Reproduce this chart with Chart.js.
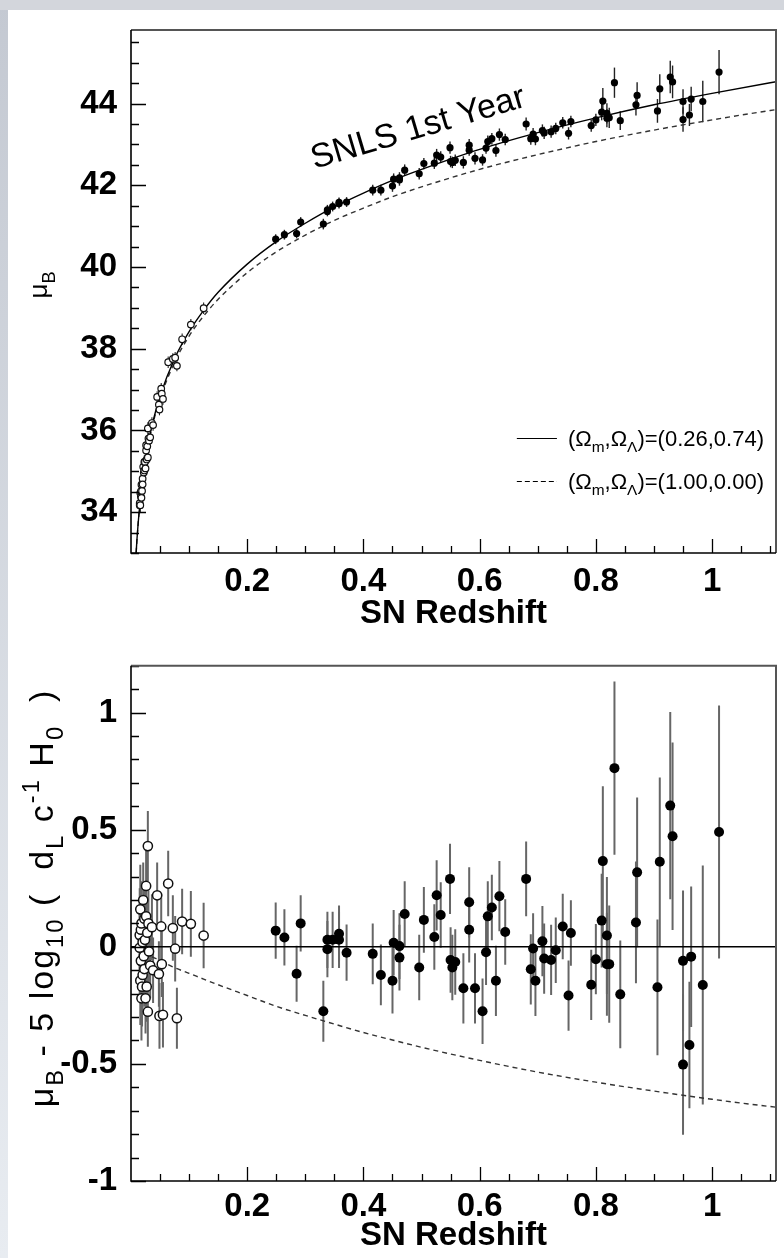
<!DOCTYPE html>
<html>
<head>
<meta charset="utf-8">
<script src="https://cdn.jsdelivr.net/npm/chart.js@4.4.1/dist/chart.umd.min.js"></script>
<style>
  html, body { margin: 0; padding: 0; }
  body { width: 784px; height: 1258px; position: relative; overflow: hidden;
         background: linear-gradient(to bottom, #c4c9d2, #e8ecf1); }
  #band { position: absolute; left: 0; top: 0; width: 784px; height: 10px; background: #d3d6dc; }
  #page { position: absolute; left: 8px; top: 10px; right: 0; bottom: 0; background: #fff; }
  #hubble { position: absolute; left: 0; top: 0; }
  #resid { position: absolute; left: 0; top: 640px; }
</style>
</head>
<body>
<div id="band"></div>
<div id="page"></div>
<canvas id="hubble" width="784" height="640"></canvas>
<canvas id="resid" width="784" height="618"></canvas>
<script>
(function () {
  'use strict';

  // nearby SNe (open circles)
  var lowZ = [0.015, 0.015, 0.016, 0.016, 0.017, 0.017, 0.018, 0.018, 0.019, 0.020,
    0.020, 0.021, 0.022, 0.023, 0.023, 0.024, 0.025, 0.026, 0.026, 0.027,
    0.028, 0.029, 0.029, 0.030, 0.031, 0.033, 0.036, 0.038, 0.045, 0.048,
    0.049, 0.052, 0.053, 0.055, 0.064, 0.072, 0.076, 0.079, 0.088, 0.103, 0.125];
  var lowMu = [34.17, 34.22, 34.47, 34.17, 34.38, 34.51, 34.35, 34.67, 34.52, 34.82,
    34.68, 35.11, 34.97, 35.23, 35.02, 35.23, 35.07, 35.64, 35.51, 35.29,
    35.61, 36.05, 35.34, 35.80, 35.75, 35.83, 36.18, 36.13, 36.82, 36.63,
    36.51, 37.02, 36.90, 36.77, 37.67, 37.75, 37.78, 37.58, 38.23, 38.59, 38.99];
  var lowRes = [-0.004, 0.05, 0.16, -0.144, -0.06, 0.073, -0.22, 0.10, -0.17, 0.02,
    -0.12, 0.20, -0.04, 0.12, -0.095, 0.03, -0.22, 0.26, 0.13, -0.17,
    0.06, 0.43, -0.277, 0.10, -0.02, -0.08, 0.084, -0.10, 0.22, -0.116,
    -0.295, 0.087, -0.074, -0.29, 0.27, 0.08, -0.008, -0.305, 0.108, 0.098, 0.048];
  var lowErr = [0.20, 0.20, 0.19, 0.19, 0.18, 0.18, 0.18, 0.18, 0.17, 0.17,
    0.17, 0.16, 0.16, 0.16, 0.16, 0.16, 0.15, 0.15, 0.15, 0.15,
    0.15, 0.15, 0.15, 0.14, 0.14, 0.14, 0.14, 0.14, 0.14, 0.14,
    0.14, 0.14, 0.14, 0.14, 0.14, 0.14, 0.14, 0.13, 0.14, 0.14, 0.14];

  // SNLS first year (filled circles)
  var snlsZ = [0.249, 0.264, 0.285, 0.292, 0.331, 0.338, 0.338, 0.347, 0.358, 0.358,
    0.371, 0.416, 0.430, 0.450, 0.452, 0.462, 0.462, 0.471, 0.496, 0.504,
    0.522, 0.526, 0.533, 0.549, 0.550, 0.553, 0.558, 0.572, 0.582, 0.582,
    0.592, 0.605, 0.611, 0.614, 0.621, 0.628, 0.634, 0.644, 0.680, 0.688,
    0.692, 0.696, 0.708, 0.711, 0.723, 0.731, 0.743, 0.753, 0.757, 0.792,
    0.800, 0.810, 0.812, 0.819, 0.819, 0.823, 0.832, 0.842, 0.869, 0.871,
    0.906, 0.910, 0.928, 0.932, 0.950, 0.950, 0.961, 0.964, 0.984, 1.012];
  var snlsMu = [40.68, 40.79, 40.82, 41.10, 41.05, 41.40, 41.36, 41.48, 41.58, 41.55,
    41.59, 41.88, 41.88, 41.98, 42.15, 42.18, 42.13, 42.37, 42.28, 42.53,
    42.54, 42.74, 42.69, 42.92, 42.58, 42.56, 42.61, 42.56, 42.98, 42.86,
    42.66, 42.62, 42.91, 43.07, 43.14, 42.85, 43.24, 43.12, 43.50, 43.14,
    43.25, 43.13, 43.34, 43.28, 43.31, 43.39, 43.53, 43.27, 43.56, 43.46,
    43.60, 43.79, 44.06, 43.76, 43.64, 43.65, 44.51, 43.58, 43.97, 44.20,
    43.82, 44.36, 44.65, 44.53, 44.05, 43.61, 43.72, 44.11, 44.05, 44.77];
  var snlsRes = [0.069, 0.040, -0.115, 0.100, -0.275, 0.030, -0.010, 0.030, 0.056, 0.030,
    -0.025, -0.030, -0.120, -0.145, 0.017, 0.003, -0.046, 0.140, -0.088, 0.115,
    0.042, 0.220, 0.136, 0.290, -0.056, -0.088, -0.065, -0.177, 0.190, 0.073,
    -0.177, -0.275, -0.023, 0.130, 0.168, -0.145, 0.216, 0.063, 0.290, -0.096,
    -0.007, -0.145, 0.024, -0.050, -0.056, -0.015, 0.087, -0.208, 0.059, -0.162,
    -0.053, 0.112, 0.366, 0.048, -0.074, -0.074, 0.763, -0.203, 0.104, 0.318,
    -0.173, 0.363, 0.603, 0.472, -0.060, -0.503, -0.419, -0.042, -0.163, 0.490];
  var snlsErr = [0.12, 0.12, 0.12, 0.12, 0.13, 0.12, 0.12, 0.12, 0.12, 0.12,
    0.12, 0.13, 0.13, 0.14, 0.14, 0.14, 0.14, 0.14, 0.14, 0.14,
    0.14, 0.15, 0.14, 0.15, 0.14, 0.14, 0.14, 0.15, 0.15, 0.14,
    0.15, 0.14, 0.14, 0.15, 0.14, 0.15, 0.15, 0.14, 0.16, 0.15,
    0.15, 0.15, 0.15, 0.15, 0.15, 0.14, 0.14, 0.15, 0.14, 0.15,
    0.15, 0.20, 0.32, 0.25, 0.22, 0.25, 0.37, 0.23, 0.26, 0.32,
    0.29, 0.36, 0.40, 0.40, 0.30, 0.30, 0.27, 0.30, 0.51, 0.54];

  // model curves
  var curveZ = [0.008, 0.01, 0.015, 0.02, 0.03, 0.04, 0.05, 0.075, 0.1, 0.125,
    0.15, 0.2, 0.25, 0.3, 0.35, 0.4, 0.45, 0.5, 0.6, 0.7, 0.8, 0.9, 1.0, 1.1, 1.12];
  var lcdmMu = [32.79, 33.28, 34.17, 34.80, 35.70, 36.34, 36.84, 37.76, 38.42, 38.94,
    39.38, 40.07, 40.62, 41.07, 41.47, 41.81, 42.12, 42.39, 42.88, 43.29, 43.65, 43.97, 44.25, 44.51, 44.56];
  var edsMu = [32.78, 33.27, 34.15, 34.77, 35.66, 36.29, 36.78, 37.67, 38.31, 38.80,
    39.21, 39.86, 40.37, 40.78, 41.14, 41.44, 41.72, 41.96, 42.39, 42.75, 43.07, 43.35, 43.60, 43.83, 43.87];
  var edsRes = [-0.010, -0.012, -0.017, -0.023, -0.036, -0.047, -0.058, -0.089, -0.113, -0.138,
    -0.162, -0.208, -0.254, -0.293, -0.330, -0.366, -0.398, -0.429, -0.485, -0.535, -0.578, -0.616, -0.651, -0.682, -0.687];
  var zeroZ = [0, 1.12];
  var zeroRes = [0, 0];

  // tick labels
  var zTicks = [0.2, 0.4, 0.6, 0.8, 1];
  var muTicks = [34, 36, 38, 40, 42, 44];
  var resTicks = [-1, -0.5, 0, 0.5, 1];

  var FONT = '"Liberation Sans", Arial, Helvetica, sans-serif';
  Chart.defaults.font.family = FONT;

  function pts(xs, ys) {
    return xs.map(function (x, i) { return { x: x, y: ys[i] }; });
  }

  function richWidth(ctx, parts, size) {
    var w = 0;
    parts.forEach(function (p) {
      ctx.font = (p[1] ? size * 0.7 : size) + 'px ' + FONT;
      w += ctx.measureText(p[0]).width;
    });
    return w;
  }

  function drawRich(ctx, parts, x, y, size) {
    var cx = x;
    parts.forEach(function (p) {
      var s = p[1] ? size * 0.7 : size;
      var dy = p[1] === 1 ? size * 0.28 : (p[1] === 2 ? -size * 0.42 : 0);
      ctx.font = s + 'px ' + FONT;
      ctx.fillText(p[0], cx, y + dy);
      cx += ctx.measureText(p[0]).width;
    });
  }

  function drawVertical(ctx, parts, cx, cy, size, spacing) {
    ctx.save();
    ctx.translate(cx, cy);
    ctx.rotate(-Math.PI / 2);
    ctx.textBaseline = 'alphabetic';
    ctx.textAlign = 'left';
    ctx.letterSpacing = (spacing || 0) + 'px';
    var w = richWidth(ctx, parts, size);
    drawRich(ctx, parts, -w / 2, size * 0.36, size);
    ctx.restore();
  }

  var errorBars = {
    id: 'errorBars',
    beforeDatasetsDraw: function (chart) {
      var ctx = chart.ctx, ys = chart.scales.y, a = chart.chartArea;
      ctx.save();
      ctx.beginPath();
      ctx.rect(a.left, a.top, a.right - a.left, a.bottom - a.top);
      ctx.clip();
      chart.data.datasets.forEach(function (ds, i) {
        if (!ds.errors) return;
        var meta = chart.getDatasetMeta(i);
        ctx.strokeStyle = ds.errorColor;
        ctx.lineWidth = ds.errorWidth;
        meta.data.forEach(function (el, j) {
          var v = ds.data[j].y, e = ds.errors[j];
          ctx.beginPath();
          ctx.moveTo(el.x, ys.getPixelForValue(v + e));
          ctx.lineTo(el.x, ys.getPixelForValue(v - e));
          ctx.stroke();
        });
      });
      ctx.restore();
    }
  };

  // ROOT-like frame with inward ticks on left and bottom
  var frame = {
    id: 'frame',
    afterDraw: function (chart, args, o) {
      var ctx = chart.ctx, a = chart.chartArea, xs = chart.scales.x, ys = chart.scales.y;
      var k, v, p, major;
      ctx.save();
      ctx.strokeStyle = '#000';
      ctx.lineWidth = 1.3;
      ctx.beginPath();
      for (k = Math.ceil(ys.min / o.yMinor - 1e-6); k * o.yMinor <= ys.max + 1e-6; k++) {
        v = k * o.yMinor;
        major = Math.abs(v / o.yMajor - Math.round(v / o.yMajor)) < 1e-6;
        p = Math.round(ys.getPixelForValue(v)) + 0.5;
        ctx.moveTo(a.left, p);
        ctx.lineTo(a.left + (major ? 15 : 8), p);
      }
      for (k = 1; k * 0.05 <= xs.max + 1e-6; k++) {
        v = k * 0.05;
        major = k % 4 === 0;
        p = Math.round(xs.getPixelForValue(v)) + 0.5;
        ctx.moveTo(p, a.bottom);
        ctx.lineTo(p, a.bottom - (major ? 14 : 7));
      }
      ctx.stroke();
      ctx.strokeStyle = '#555';
      ctx.lineWidth = 2;
      ctx.beginPath();
      ctx.moveTo(a.left, a.top);
      ctx.lineTo(a.right, a.top);
      ctx.lineTo(a.right, a.bottom);
      ctx.stroke();
      ctx.strokeStyle = '#000';
      ctx.lineWidth = 1.6;
      ctx.beginPath();
      ctx.moveTo(a.left, a.top);
      ctx.lineTo(a.left, a.bottom);
      ctx.lineTo(a.right, a.bottom);
      ctx.stroke();
      ctx.restore();
    }
  };

  function axisX(height, tickPad, titlePad) {
    return {
      type: 'linear', min: 0, max: 1.11,
      grid: { display: false }, border: { display: false },
      afterBuildTicks: function (ax) { ax.ticks = zTicks.map(function (v) { return { value: v }; }); },
      afterFit: function (s) { s.height = height; },
      ticks: { color: '#000', padding: tickPad, maxRotation: 0, autoSkip: false,
        font: { size: 33, weight: 'bold' }, callback: function (v) { return String(v); } },
      title: { display: true, text: 'SN Redshift', color: '#000',
        font: { size: 33, weight: 'bold' }, padding: { top: 0, bottom: titlePad } }
    };
  }

  function axisY(min, max, tickList) {
    return {
      type: 'linear', min: min, max: max,
      grid: { display: false }, border: { display: false },
      afterBuildTicks: function (ax) { ax.ticks = tickList.map(function (v) { return { value: v }; }); },
      afterFit: function (s) { s.width = 131; },
      ticks: { color: '#000', padding: 6, autoSkip: false,
        font: { size: 33, weight: 'bold' }, callback: function (v) { return String(v); } }
    };
  }

  var hubbleText = {
    id: 'hubbleText',
    afterDraw: function (chart) {
      var ctx = chart.ctx, xs = chart.scales.x, ys = chart.scales.y;
      ctx.save();
      ctx.fillStyle = '#000';
      ctx.textBaseline = 'alphabetic';
      drawVertical(ctx, [['\u03bc', 0], ['B', 1]], 38, 285, 26);

      // annotation
      ctx.save();
      ctx.translate(xs.getPixelForValue(0.316), ys.getPixelForValue(42.40));
      ctx.rotate(-16.5 * Math.PI / 180);
      ctx.font = '34px ' + FONT;
      ctx.fillText('SNLS 1st Year', 0, 0);
      ctx.restore();

      // legend
      var lx1 = xs.getPixelForValue(0.664), lx2 = xs.getPixelForValue(0.733);
      var tx = xs.getPixelForValue(0.752);
      var rows = [[35.82, [], '0.26,0.74'], [34.77, [5, 3], '1.00,0.00']];
      rows.forEach(function (r) {
        var py = Math.round(ys.getPixelForValue(r[0])) + 0.5;
        ctx.strokeStyle = '#000';
        ctx.lineWidth = 1.2;
        ctx.setLineDash(r[1]);
        ctx.beginPath();
        ctx.moveTo(lx1, py);
        ctx.lineTo(lx2, py);
        ctx.stroke();
        ctx.setLineDash([]);
        drawRich(ctx, [['(\u03a9', 0], ['m', 1], [',\u03a9', 0], ['\u039b', 1],
          [')=(' + r[2] + ')', 0]], tx, py + 7, 22);
      });
      ctx.restore();
    }
  };

  var residText = {
    id: 'residText',
    afterDraw: function (chart) {
      var ctx = chart.ctx;
      ctx.save();
      ctx.fillStyle = '#000';
      drawVertical(ctx, [['\u03bc', 0], ['B', 1], [' - 5 log', 0], ['10', 1], [' (  d', 0], ['L', 1],
        [' c', 0], ['-1', 2], [' H', 0], ['0', 1], ['  )', 0]], 41, 258, 34, 2);
      ctx.restore();
    }
  };

  var common = {
    responsive: false, animation: false, events: [],
    plugins: { legend: { display: false }, tooltip: { enabled: false } }
  };

  new Chart(document.getElementById('hubble'), {
    type: 'scatter',
    data: {
      datasets: [
        { data: pts(snlsZ, snlsMu), errors: snlsErr, errorColor: '#222', errorWidth: 1.4,
          pointRadius: 3.6, pointBackgroundColor: '#000', pointBorderColor: '#000', pointBorderWidth: 0 },
        { data: pts(lowZ, lowMu), errors: lowErr, errorColor: '#222', errorWidth: 1.1,
          pointRadius: 3.3, pointBackgroundColor: '#fff', pointBorderColor: '#111', pointBorderWidth: 1.2 },
        { data: pts(curveZ, lcdmMu), showLine: true, borderColor: '#000', borderWidth: 1.4,
          pointRadius: 0, cubicInterpolationMode: 'monotone' },
        { data: pts(curveZ, edsMu), showLine: true, borderColor: '#333', borderWidth: 1.4,
          borderDash: [5, 4], pointRadius: 0, cubicInterpolationMode: 'monotone' }
      ]
    },
    options: Object.assign({}, common, {
      layout: { padding: { top: 30, right: 8, left: 0, bottom: 0 } },
      scales: { x: axisX(87, 1, 6), y: axisY(33, 45.8, muTicks) },
      plugins: Object.assign({}, common.plugins, { frame: { yMinor: 0.5, yMajor: 2 } })
    }),
    plugins: [errorBars, frame, hubbleText]
  });

  new Chart(document.getElementById('resid'), {
    type: 'scatter',
    data: {
      datasets: [
        { data: pts(snlsZ, snlsRes), errors: snlsErr, errorColor: '#666', errorWidth: 2,
          pointRadius: 5, pointBackgroundColor: '#000', pointBorderColor: '#000', pointBorderWidth: 0 },
        { data: pts(lowZ, lowRes), errors: lowErr, errorColor: '#666', errorWidth: 2,
          pointRadius: 4.6, pointBackgroundColor: '#fff', pointBorderColor: '#111', pointBorderWidth: 1.5 },
        { data: pts(zeroZ, zeroRes), showLine: true, borderColor: '#000', borderWidth: 1.4, pointRadius: 0 },
        { data: pts(curveZ, edsRes), showLine: true, borderColor: '#333', borderWidth: 1.4,
          borderDash: [5, 4], pointRadius: 0, cubicInterpolationMode: 'monotone' }
      ]
    },
    options: Object.assign({}, common, {
      layout: { padding: { top: 19, right: 8, left: 0, bottom: 0 } },
      scales: { x: axisX(77, -2, 2), y: axisY(-1, 1.2, resTicks) },
      plugins: Object.assign({}, common.plugins, { frame: { yMinor: 0.1, yMajor: 0.5 } })
    }),
    plugins: [errorBars, frame, residText]
  });
})();
</script>
</body>
</html>
